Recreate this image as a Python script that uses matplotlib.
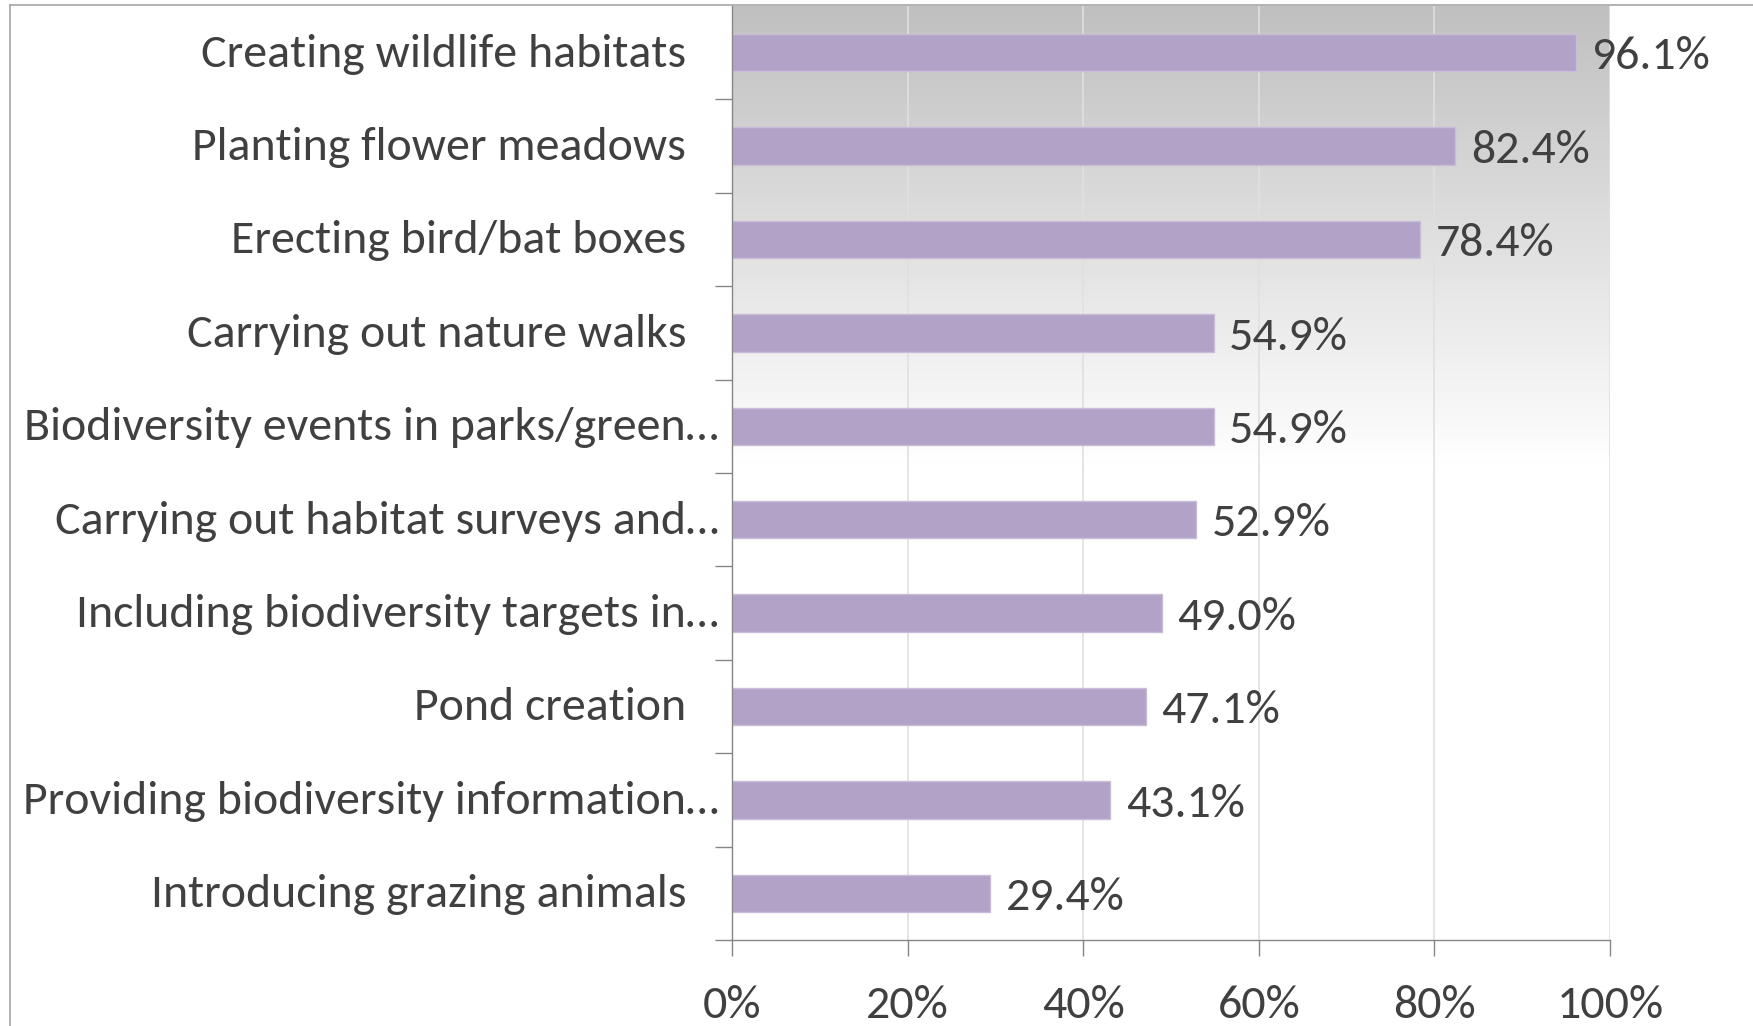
import matplotlib
matplotlib.use("Agg")
import matplotlib.pyplot as plt
import numpy as np
from matplotlib.lines import Line2D
import matplotlib.font_manager as fm

categories = [
    "Creating wildlife habitats",
    "Planting flower meadows",
    "Erecting bird/bat boxes",
    "Carrying out nature walks",
    "Biodiversity events in parks/green\u2026",
    "Carrying out habitat surveys and\u2026",
    "Including biodiversity targets in\u2026",
    "Pond creation",
    "Providing biodiversity information\u2026",
    "Introducing grazing animals",
]
values = [96.1, 82.4, 78.4, 54.9, 54.9, 52.9, 49.0, 47.1, 43.1, 29.4]
xticks = [0, 20, 40, 60, 80, 100]
xtick_labels = ["0%", "20%", "40%", "60%", "80%", "100%"]

avail = {f.name for f in fm.fontManager.ttflist}
fam = [f for f in ["Carlito", "Lato", "DejaVu Sans"] if f in avail]
plt.rcParams['font.family'] = fam
FS = 34.5
TXT = '#404040'
AX = '#868686'

W, H = 1753, 1026
fig = plt.figure(figsize=(W / 100, H / 100), dpi=100)
ax = fig.add_axes([732 / W, 1 - 940 / H, (1610 - 732) / W, (940 - 6) / H])

n = len(categories)
ypos = np.arange(n)[::-1]

# gradient background
grad = np.linspace(0, 1, 256).reshape(-1, 1)
vals = np.where(grad > 0.5, 0.75 + (1 - grad) * 0.5, 1.0)
vals = np.clip(vals, 0, 1)
ax.imshow(vals, cmap='gray', vmin=0, vmax=1, extent=[0, 1, 0, 1], origin='lower',
          transform=ax.transAxes, aspect='auto', zorder=0, interpolation='bilinear')

ax.set_xlim(0, 100)
ax.set_ylim(-0.5, n - 0.5)

for x in xticks[1:]:
    ax.axvline(x, color='#e0e0e0', lw=1.2, zorder=1)

ax.barh(ypos, values, height=0.4, color='#B3A2C7', edgecolor='#C9BCDA', lw=1, zorder=2)

for y, v in zip(ypos, values):
    ax.annotate(f"{v:.1f}%", xy=(v, y), xytext=(11, -3), textcoords='offset points',
                ha='left', va='center', fontsize=FS, color=TXT, zorder=3)

for y, c in zip(ypos, categories):
    off = -9.5 if c.endswith('\u2026') else -33
    ax.annotate(c, xy=(0, y), xycoords=('axes fraction', 'data'), xytext=(off, -1),
                textcoords='offset points', ha='right', va='center', fontsize=FS,
                color=TXT, annotation_clip=False)

ax.set_yticks(np.arange(-0.5, n - 1, 1.0))
ax.set_yticklabels([])
ax.tick_params(axis='y', length=12, color=AX, width=1)
ax.set_xticks(xticks)
ax.set_xticklabels(xtick_labels, fontsize=FS, color=TXT)
ax.tick_params(axis='x', length=11.5, color=AX, width=1, pad=21)

for s in ['top', 'right']:
    ax.spines[s].set_visible(False)
for s in ['left', 'bottom']:
    ax.spines[s].set_color(AX)
    ax.spines[s].set_linewidth(1)

# outer frame (left and top edges)
fig.add_artist(Line2D([10 / W, 10 / W], [0, 1 - 5 / H], transform=fig.transFigure, color='#a6a6a6', lw=1.2))
fig.add_artist(Line2D([10 / W, 1], [1 - 5 / H, 1 - 5 / H], transform=fig.transFigure, color='#a6a6a6', lw=1.2))

fig.savefig('out.png', dpi=100)
